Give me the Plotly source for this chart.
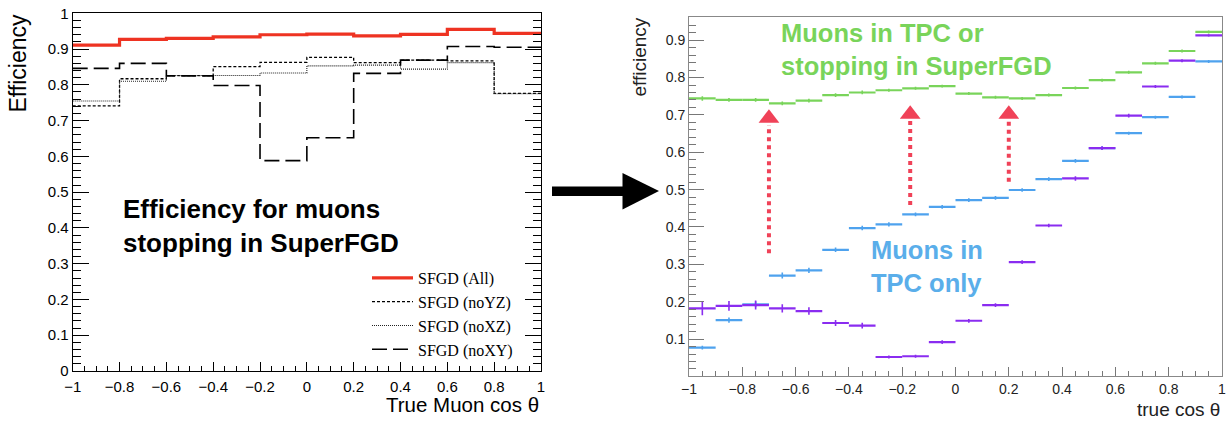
import plotly.graph_objects as go

# left panel: efficiency for muons stopping in SuperFGD (0.2 wide bins)
left_edges = [-1.0, -0.8, -0.6, -0.4, -0.2, 0.0, 0.2, 0.4, 0.6, 0.8, 1.0]
eff_all = [0.911, 0.927, 0.930, 0.934, 0.940, 0.942, 0.937, 0.941, 0.955, 0.944]
eff_noYZ = [0.741, 0.817, 0.826, 0.851, 0.863, 0.877, 0.862, 0.869, 0.867, 0.776]
eff_noXZ = [0.755, 0.810, 0.826, 0.826, 0.833, 0.853, 0.855, 0.844, 0.862, 0.775]
eff_noXY = [0.846, 0.860, 0.825, 0.798, 0.588, 0.652, 0.832, 0.869, 0.907, 0.905]

# right panel: 0.1 wide bins
right_centers = [-0.95, -0.85, -0.75, -0.65, -0.55, -0.45, -0.35, -0.25, -0.15, -0.05,
                 0.05, 0.15, 0.25, 0.35, 0.45, 0.55, 0.65, 0.75, 0.85, 0.95]
green_eff = [0.744, 0.740, 0.740, 0.731, 0.738, 0.753, 0.760, 0.766, 0.771, 0.777,
             0.757, 0.747, 0.744, 0.753, 0.772, 0.793, 0.814, 0.838, 0.871, 0.922]
green_err = [0.006, 0.005, 0.005, 0.005, 0.005, 0.005, 0.005, 0.004, 0.004, 0.004,
             0.004, 0.004, 0.004, 0.004, 0.004, 0.004, 0.004, 0.004, 0.004, 0.004]
blue_eff = [0.077, 0.151, 0.193, 0.270, 0.284, 0.339, 0.397, 0.407, 0.434, 0.454,
            0.472, 0.478, 0.499, 0.528, 0.577, 0.611, 0.651, 0.694, 0.748, 0.843]
blue_err = [0.005, 0.007, 0.008, 0.008, 0.007, 0.006, 0.006, 0.006, 0.005, 0.005,
            0.005, 0.005, 0.005, 0.005, 0.005, 0.005, 0.004, 0.004, 0.004, 0.004]
purple_eff = [0.182, 0.189, 0.191, 0.182, 0.175, 0.143, 0.136, 0.052, 0.054, 0.092,
              0.149, 0.191, 0.306, 0.404, 0.530, 0.611, 0.698, 0.776, 0.845, 0.913]
purple_err = [0.018, 0.013, 0.012, 0.011, 0.010, 0.008, 0.008, 0.004, 0.004, 0.005,
              0.005, 0.005, 0.005, 0.005, 0.006, 0.005, 0.005, 0.004, 0.004, 0.003]

# red arrows: x, bottom, tip
arrow_x = [-0.70, -0.17, 0.20]
arrow_bottom = [0.330, 0.459, 0.521]
arrow_tip = [0.713, 0.724, 0.724]

W, H = 1231, 423
def px(x):
    return x / W
def py(y):
    return 1 - y / H

GREEN = "#79d45a"
BLUE = "#4ea2ee"
PURPLE = "#8a2cf0"
RED = "#f04258"

fig = go.Figure()

def step(vals):
    return vals + [vals[-1]]

left_series = [
    ("SFGD (All)", eff_all, dict(color="#ee3322", width=3.2)),
    ("SFGD (noYZ)", eff_noYZ, dict(color="black", width=1.3, dash="3px,2px")),
    ("SFGD (noXZ)", eff_noXZ, dict(color="#222", width=1.1, dash="1px,1px")),
    ("SFGD (noXY)", eff_noXY, dict(color="black", width=1.6, dash="15px,6px")),
]
for name, vals, line in left_series:
    fig.add_trace(go.Scatter(x=left_edges, y=step(vals), mode="lines", line_shape="hv",
                             name=name, line=line, xaxis="x", yaxis="y"))

for vals, errs, col in [(green_eff, green_err, GREEN), (blue_eff, blue_err, BLUE),
                        (purple_eff, purple_err, PURPLE)]:
    fig.add_trace(go.Scatter(x=right_centers, y=vals, mode="markers",
                             marker=dict(size=1, color=col), showlegend=False,
                             error_x=dict(type="constant", value=0.05, width=0, thickness=2.2, color=col),
                             error_y=dict(type="data", array=errs, width=0, thickness=1.6, color=col),
                             xaxis="x2", yaxis="y2"))

# dotted arrows
for xa, yb, yt in zip(arrow_x, arrow_bottom, arrow_tip):
    fig.add_shape(type="line", xref="x2", yref="y2", x0=xa, x1=xa, y0=yb, y1=yt - 0.04,
                  line=dict(color=RED, width=4, dash="4px,4px"))
fig.add_trace(go.Scatter(x=arrow_x, y=[t - 0.022 for t in arrow_tip], mode="markers",
                         marker=dict(symbol="triangle-up", size=18, color=RED),
                         showlegend=False, xaxis="x2", yaxis="y2", hoverinfo="skip"))

# big black arrow between the panels
fig.add_shape(type="rect", xref="paper", yref="paper", x0=px(552), x1=px(624),
              y0=py(196), y1=py(186.5), fillcolor="black", line_width=0)
fig.add_shape(type="path", xref="paper", yref="paper",
              path=f"M {px(622.5)} {py(173)} L {px(659)} {py(191)} L {px(622.5)} {py(209.5)} Z",
              fillcolor="black", line_width=0)

tickfont_l = dict(family="Liberation Sans, Arial", size=15, color="black")
tickfont_r = dict(family="Liberation Sans, Arial", size=14, color="#222")

fig.update_layout(
    width=W, height=H, margin=dict(l=0, r=0, t=0, b=0, autoexpand=False),
    paper_bgcolor="white", plot_bgcolor="white",
    xaxis=dict(domain=[px(72.7), px(541)], range=[-1, 1], dtick=0.2, tick0=-1, automargin=False,
               ticks="inside", ticklen=9, tickcolor="black", showline=True, linecolor="black",
               mirror=True, showgrid=False, zeroline=False, tickfont=tickfont_l,
               ticklabelstandoff=2,
               minor=dict(dtick=0.05, ticklen=5, ticks="inside", tickcolor="black")),
    yaxis=dict(domain=[py(371), py(13.3)], range=[0, 1], dtick=0.1, tick0=0, automargin=False,
               ticks="inside", ticklen=16, tickcolor="black", showline=True, linecolor="black",
               mirror="ticks", showgrid=False, zeroline=False, tickfont=tickfont_l,
               minor=dict(dtick=0.02, ticklen=8, ticks="inside", tickcolor="black")),
    xaxis2=dict(domain=[px(689), px(1222)], range=[-1, 1], dtick=0.2, tick0=-1, anchor="y2",
                automargin=False,
                ticks="inside", ticklen=9, tickcolor="#777", showline=True, linecolor="#888",
                mirror=True, showgrid=False, zeroline=False, tickfont=tickfont_r,
                minor=dict(dtick=0.05, ticklen=5, ticks="inside", tickcolor="#777")),
    yaxis2=dict(domain=[py(375.7), py(17)], range=[0.002, 0.962], dtick=0.1, tick0=0, anchor="x2",
                automargin=False,
                ticks="inside", ticklen=15, tickcolor="#777", showline=True, linecolor="#888",
                mirror=True, showgrid=False, zeroline=False, tickfont=tickfont_r,
                minor=dict(dtick=0.02, ticklen=7, ticks="inside", tickcolor="#777")),
    legend=dict(x=px(367), y=py(261), xanchor="left", yanchor="top", bgcolor="rgba(0,0,0,0)",
                font=dict(family="Liberation Serif, Times New Roman", size=16, color="black"),
                tracegroupgap=0, itemwidth=41),
    showlegend=True,
)

ann = [
    dict(text="Efficiency", x=px(17), y=py(12), textangle=-90, xanchor="center", yanchor="top",
         font=dict(family="Liberation Sans, Arial", size=23, color="black")),
    dict(text="True Muon cos θ", x=px(541), y=py(404), xanchor="right", yanchor="middle",
         font=dict(family="Liberation Sans, Arial", size=20.5, color="black")),
    dict(text="<b>Efficiency for muons<br>stopping in SuperFGD</b>", x=px(121), y=py(226),
         xanchor="left", yanchor="middle", align="left",
         font=dict(family="Liberation Sans, Arial", size=26, color="black")),
    dict(text="efficiency", x=px(639), y=py(16), textangle=-90, xanchor="center", yanchor="top",
         font=dict(family="Liberation Sans, Arial", size=19, color="#222")),
    dict(text="true cos θ", x=px(1222), y=py(409), xanchor="right", yanchor="middle",
         font=dict(family="Liberation Sans, Arial", size=19, color="#222")),
    dict(text="<b>Muons in TPC or<br>stopping in SuperFGD</b>", x=px(779), y=py(50),
         xanchor="left", yanchor="middle", align="left",
         font=dict(family="Liberation Sans, Arial", size=25.5, color=GREEN)),
    dict(text="<b>Muons in<br>TPC only</b>", x=px(869), y=py(266),
         xanchor="left", yanchor="middle", align="left",
         font=dict(family="Liberation Sans, Arial", size=25.5, color="#5aaeea")),
]
for a in ann:
    fig.add_annotation(xref="paper", yref="paper", showarrow=False, **a)

fig.write_html("out.html", config={"displayModeBar": False},
               post_script="document.body.style.margin='0px';")
